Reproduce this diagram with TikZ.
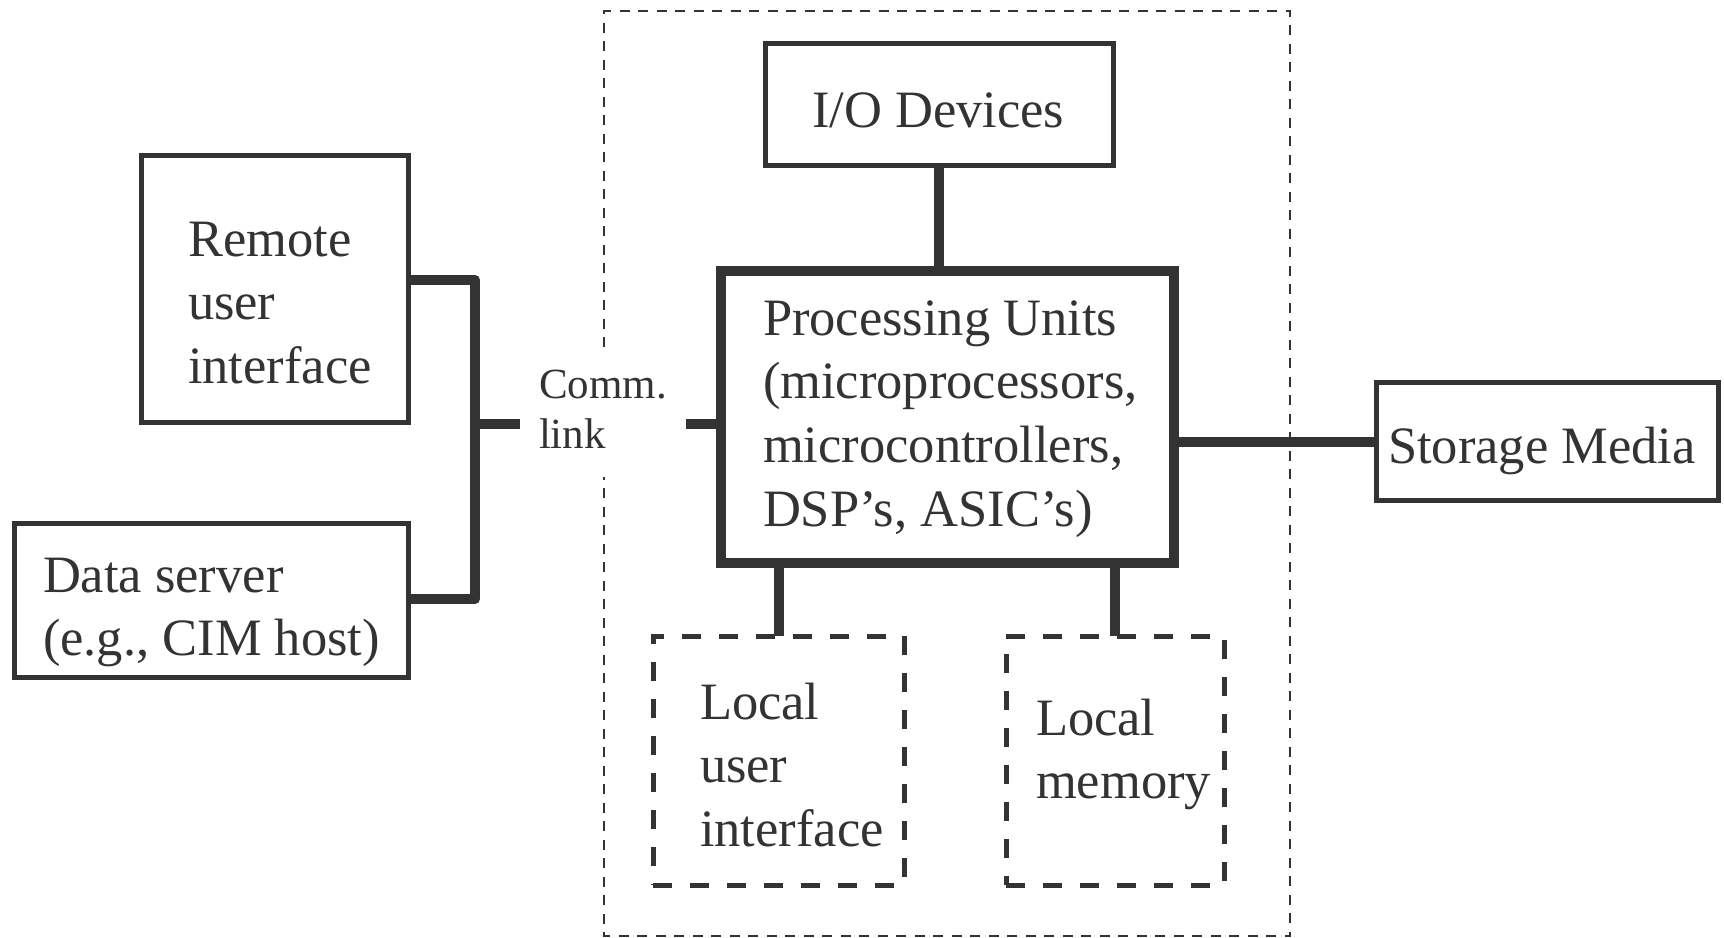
\documentclass[tikz,border=0pt]{standalone}
\usepackage{fontspec}
\setmainfont{Liberation Serif}
\definecolor{ink}{HTML}{333333}
\begin{document}
\begin{tikzpicture}[x=1pt, y=-1pt,
  every node/.style={inner sep=0pt, outer sep=0pt},
  solidbox/.style={rectangle, draw=ink, line width=5pt},
  heavybox/.style={rectangle, draw=ink, line width=10pt},
  dashbox/.style={rectangle, draw=ink, line width=5pt, dash pattern=on 19pt off 18pt},
  link/.style={draw=ink, line width=10pt},
  bus/.style={link, line join=round},
  frame/.style={draw=ink, line width=2.5pt, dash pattern=on 10pt off 8.5pt},
  txt/.style={anchor=base west, text=ink, font=\fontsize{52.5}{63.7}\selectfont},
  smalltxt/.style={anchor=base west, text=ink, font=\fontsize{43}{50}\selectfont}
]
% canvas
\fill[white] (0,0) rectangle (1724,937);
\useasboundingbox (0,0) rectangle (1724,937);

% embedded system frame, open on the left where the comm. link passes
\draw[frame] (604,347) -- (604,11) -- (1290,11) -- (1290,936) -- (604,936) -- (604,477);

% boxes
\node[solidbox, minimum width=267pt, minimum height=267pt] (remote) at (275,288.5) {};
\node[solidbox, minimum width=394.5pt, minimum height=154.5pt] (dserver) at (211.25,600.25) {};
\node[solidbox, minimum width=348pt, minimum height=122pt] (io) at (939,104.5) {};
\node[heavybox, minimum width=453.2pt, minimum height=292.5pt] (pu) at (947.1,416.75) {};
\node[solidbox, minimum width=342pt, minimum height=118pt] (storage) at (1547.5,441.5) {};
\node[dashbox, minimum width=251pt, minimum height=249pt] (lui) at (778.5,760.5) {};
\node[dashbox, minimum width=218pt, minimum height=249pt] (lmem) at (1115,760.5) {};

% labels
\node[txt] (remote-t) at (188,256) {\begin{tabular}[t]{@{}l@{}}Remote\\user\\interface\end{tabular}};
\node[txt] (dserver-t) at (43,592) {\begin{tabular}[t]{@{}l@{}}Data server\\(e.g., CIM host)\end{tabular}};
\node[txt] (io-t) at (812,127) {I/O Devices};
\node[txt] (pu-t) at (763,335) {\begin{tabular}[t]{@{}l@{}}Processing Units\\(microprocessors,\\microcontrollers,\\DSP’s, ASIC’s)\end{tabular}};
\node[txt] (storage-t) at (1388,463) {Storage Media};
\node[txt] (lui-t) at (700,719) {\begin{tabular}[t]{@{}l@{}}Local\\user\\interface\end{tabular}};
\node[txt] (lmem-t) at (1036,735) {\begin{tabular}[t]{@{}l@{}}Local\\memory\end{tabular}};
\node[smalltxt] (comm-t) at (539,398) {\begin{tabular}[t]{@{}l@{}}Comm.\\[0pt]link\end{tabular}};

% connection points of the remote bus
\coordinate (jt) at (475,280);
\coordinate (jm) at (475,424);
\coordinate (jb) at (475,599);
\coordinate (commL) at (520,424);
\coordinate (commR) at (686,424);

% connectors
\draw[bus] (remote.east |- jt) -- (jt) -- (jb) -- (dserver.east |- jb);
\draw[link] (jm) -- (commL);
\draw[link] (commR) -- (pu.west |- commR);
\draw[link] (io.south) -- (io.south |- pu.north);
\draw[link] (storage.west) -- (storage.west -| pu.east);
\draw[link] (lui.north) -- (lui.north |- pu.south);
\draw[link] (lmem.north) -- (lmem.north |- pu.south);
\end{tikzpicture}
\end{document}
